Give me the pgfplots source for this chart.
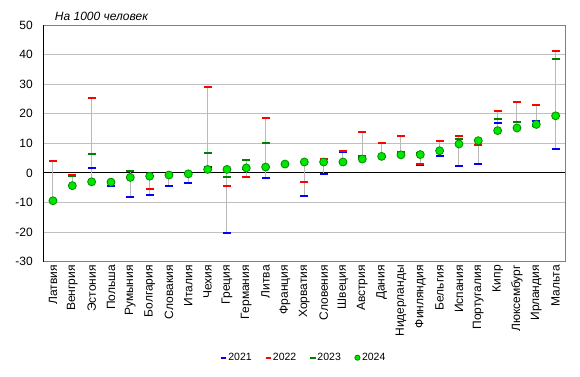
\documentclass[border=0pt]{standalone}
\usepackage{pgfplots}
\pgfplotsset{compat=1.18}
\usepackage{pgfplotstable}
\usepackage{fontspec}
\setmainfont{Liberation Sans}
\definecolor{c21}{RGB}{0,0,255}
\definecolor{c22}{RGB}{255,0,0}
\definecolor{c23}{RGB}{0,128,0}
\definecolor{c24}{RGB}{0,230,0}
\definecolor{c24b}{RGB}{0,140,0}
\definecolor{gridc}{RGB}{192,192,192}
\definecolor{rangec}{RGB}{185,185,185}
\definecolor{framec}{RGB}{128,128,128}

% x  2021  2022  2023  2024
\pgfplotstableread{
x a b c d
0 -9.3 4.2 -9.6 -9.4
1 -4.4 -0.8 -1.1 -4.3
2 1.6 25.4 6.5 -3.0
3 -4.5 -3.3 -3.2 -3.1
4 -8.0 -1.6 0.8 -1.5
5 -7.3 -5.3 -1.0 -1.1
6 -4.3 -0.6 -0.5 -0.7
7 -3.3 -0.4 -0.2 -0.3
8 2.0 29.2 6.9 1.2
9 -20.4 -4.3 -1.25 1.2
10 1.5 -1.25 4.3 1.7
11 -1.6 18.4 10.2 2.0
12 3.0 3.1 2.9 3.0
13 -7.7 -2.9 3.6 3.7
14 -0.5 4.6 3.8 3.7
15 7.0 7.4 3.5 3.7
16 5.0 14.0 5.8 4.7
17 5.5 10.2 5.7 5.6
18 6.0 12.6 7.2 6.1
19 2.7 3.1 6.6 6.2
20 5.6 10.9 7.4 7.5
21 2.2 12.6 11.4 9.8
22 2.9 9.5 11.0 10.9
23 16.8 20.8 18.1 14.3
24 15.3 23.9 17.1 15.2
25 17.4 22.8 16.0 16.4
26 8.0 41.3 38.6 19.3
}\data

\begin{document}
\begin{tikzpicture}
\useasboundingbox (-43.3bp,-115bp) rectangle (536.7bp,261.7bp);
\begin{axis}[
  at={(0,0)}, anchor=south west,
  scale only axis, width=522bp, height=236.7bp,
  xmin=-0.5, xmax=26.5, ymin=-30, ymax=50,
  ytick={-30,-20,...,50},
  xtick={0,...,26},
  xticklabels={Латвия,Венгрия,Эстония,Польша,Румыния,Болгария,Словакия,Италия,Чехия,Греция,Германия,Литва,Франция,Хорватия,Словения,Швеция,Австрия,Дания,Нидерланды,Финляндия,Бельгия,Испания,Португалия,Кипр,Люксембург,Ирландия,Мальта},
  xticklabel style={rotate=90, anchor=east, font=\fontsize{12bp}{14bp}\selectfont},
  yticklabel style={font=\fontsize{12bp}{14bp}\selectfont, xshift=-7bp},
  /pgf/number format/assume math mode=true,
  major tick length=0pt,
  ymajorgrids, grid style={gridc, line width=1bp},
  axis line style={framec, line width=1bp},
  clip=false,
  legend columns=4,
  legend style={draw=none, fill=none, at={(axis description cs:0.5,-0.4056)}, anchor=center,
    font=\fontsize{10.5bp}{12bp}\selectfont,
    /tikz/every even column/.append style={column sep=12bp}},
  legend image code/.code={\draw[#1,mark size=2.6bp] plot coordinates {(0.1cm,0cm)};},
]
\draw[black, line width=1bp] (axis cs:-0.5,0) -- (axis cs:26.5,0);
\addplot[draw=none, forget plot, error bars/.cd, y dir=plus, y explicit, error mark=none,
  error bar style={draw=rangec, line width=1bp}]
  table[x=x, y expr={min(\thisrow{a},\thisrow{b},\thisrow{c},\thisrow{d})},
        y error expr={max(\thisrow{a},\thisrow{b},\thisrow{c},\thisrow{d})-min(\thisrow{a},\thisrow{b},\thisrow{c},\thisrow{d})}] {\data};
\addplot[only marks, mark=-, mark size=4bp, mark options={draw=c21, line width=2bp}] table[x=x,y=a] {\data};
\addlegendentry{2021}
\addplot[only marks, mark=-, mark size=4bp, mark options={draw=c22, line width=2bp}] table[x=x,y=b] {\data};
\addlegendentry{2022}
\addplot[only marks, mark=-, mark size=4bp, mark options={draw=c23, line width=2bp}] table[x=x,y=c] {\data};
\addlegendentry{2023}
\addplot[only marks, mark=*, mark size=4bp, mark options={fill=c24, draw=c24b, line width=0.8bp}] table[x=x,y=d] {\data};
\addlegendentry{2024}
\draw[black, line width=1.2bp] (rel axis cs:0,0) -- (rel axis cs:0,1);
\node[anchor=west, inner sep=0pt, font=\itshape\fontsize{12bp}{14bp}\selectfont] at (axis description cs:0.022,1.038) {На 1000 человек};
\end{axis}
\end{tikzpicture}
\end{document}
